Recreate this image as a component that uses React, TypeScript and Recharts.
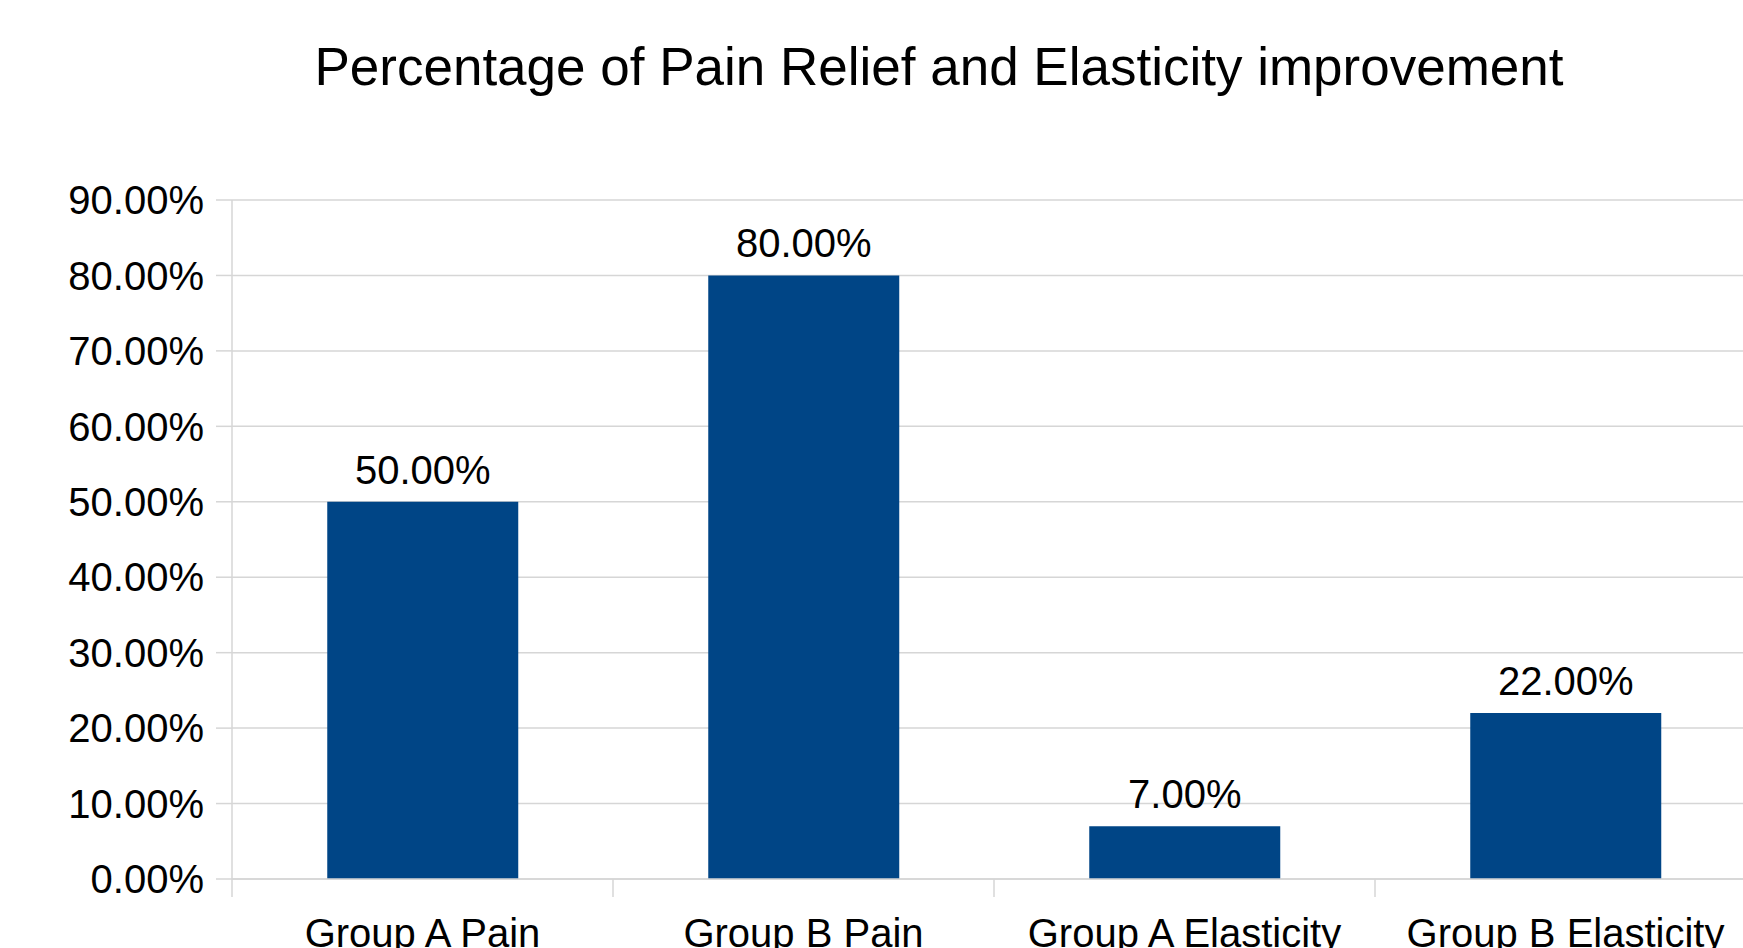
import { BarChart, Bar, XAxis, YAxis, CartesianGrid, LabelList } from 'recharts';

// categories and values (percent)
const categories = ['Group A Pain', 'Group B Pain', 'Group A Elasticity', 'Group B Elasticity'];
const improvement = [50, 80, 7, 22];
const yTicks = [0, 10, 20, 30, 40, 50, 60, 70, 80, 90];

const data = categories.map((name, i) => ({ name, value: improvement[i] }));

const FONT = '"Liberation Sans", Arial, sans-serif';
const GRID = '#d6d6d6';
const CHART_W = 1776;
const CHART_H = 960;
const Y_AXIS_W = 232;
const MARGIN = { top: 200, right: 20, left: 0, bottom: 0 };
const X_TICK_SIZE = 18;
const X_TICK_MARGIN = 22;
const BAND = (CHART_W - MARGIN.right - Y_AXIS_W) / categories.length;

const pct = (v: number) => `${v.toFixed(2)}%`;

// category label centred, with a short divider tick at the left edge of each band
const CategoryTick = (props: any) => {
  const { x, y, payload } = props;
  const axisY = y - X_TICK_SIZE - X_TICK_MARGIN;
  const left = x - BAND / 2;
  return (
    <g>
      <line x1={left} x2={left} y1={axisY} y2={axisY + X_TICK_SIZE} stroke={GRID} strokeWidth={1.5} />
      <text x={x} y={y} dy="0.71em" textAnchor="middle" fill="#000" fontSize={40} fontFamily={FONT}>
        {payload.value}
      </text>
    </g>
  );
};

export default function App() {
  return (
    <div style={{ position: 'fixed', left: 0, top: 0, width: 1743, height: 948, overflow: 'hidden', background: '#fff' }}>
      <div
        style={{
          position: 'absolute',
          left: 239,
          width: 1400,
          top: 40,
          textAlign: 'center',
          fontFamily: FONT,
          fontSize: 53,
          lineHeight: '53px',
          color: '#000',
          whiteSpace: 'nowrap',
        }}
      >
        Percentage of Pain Relief and Elasticity improvement
      </div>
      <div style={{ position: 'absolute', left: 0, top: 0 }}>
        <BarChart width={CHART_W} height={CHART_H} data={data} margin={MARGIN} barCategoryGap="25%">
          <CartesianGrid vertical={false} stroke={GRID} strokeWidth={1.5} />
          <XAxis
            dataKey="name"
            height={CHART_H - 879}
            axisLine={{ stroke: GRID, strokeWidth: 1.5 }}
            tickLine={false}
            tickSize={X_TICK_SIZE}
            tickMargin={X_TICK_MARGIN}
            interval={0}
            tick={<CategoryTick />}
          />
          <YAxis
            width={Y_AXIS_W}
            domain={[0, 90]}
            ticks={yTicks}
            tickFormatter={pct}
            axisLine={{ stroke: GRID, strokeWidth: 1.5 }}
            tickLine={{ stroke: GRID, strokeWidth: 1.5 }}
            tickSize={16}
            tickMargin={12}
            tick={{ fill: '#000', fontSize: 40, fontFamily: FONT }}
          />
          <Bar dataKey="value" fill="#004586" isAnimationActive={false}>
            <LabelList
              dataKey="value"
              position="top"
              offset={18}
              formatter={(v: any) => pct(Number(v))}
              fill="#000"
              fontSize={40}
              fontFamily={FONT}
            />
          </Bar>
        </BarChart>
      </div>
    </div>
  );
}
